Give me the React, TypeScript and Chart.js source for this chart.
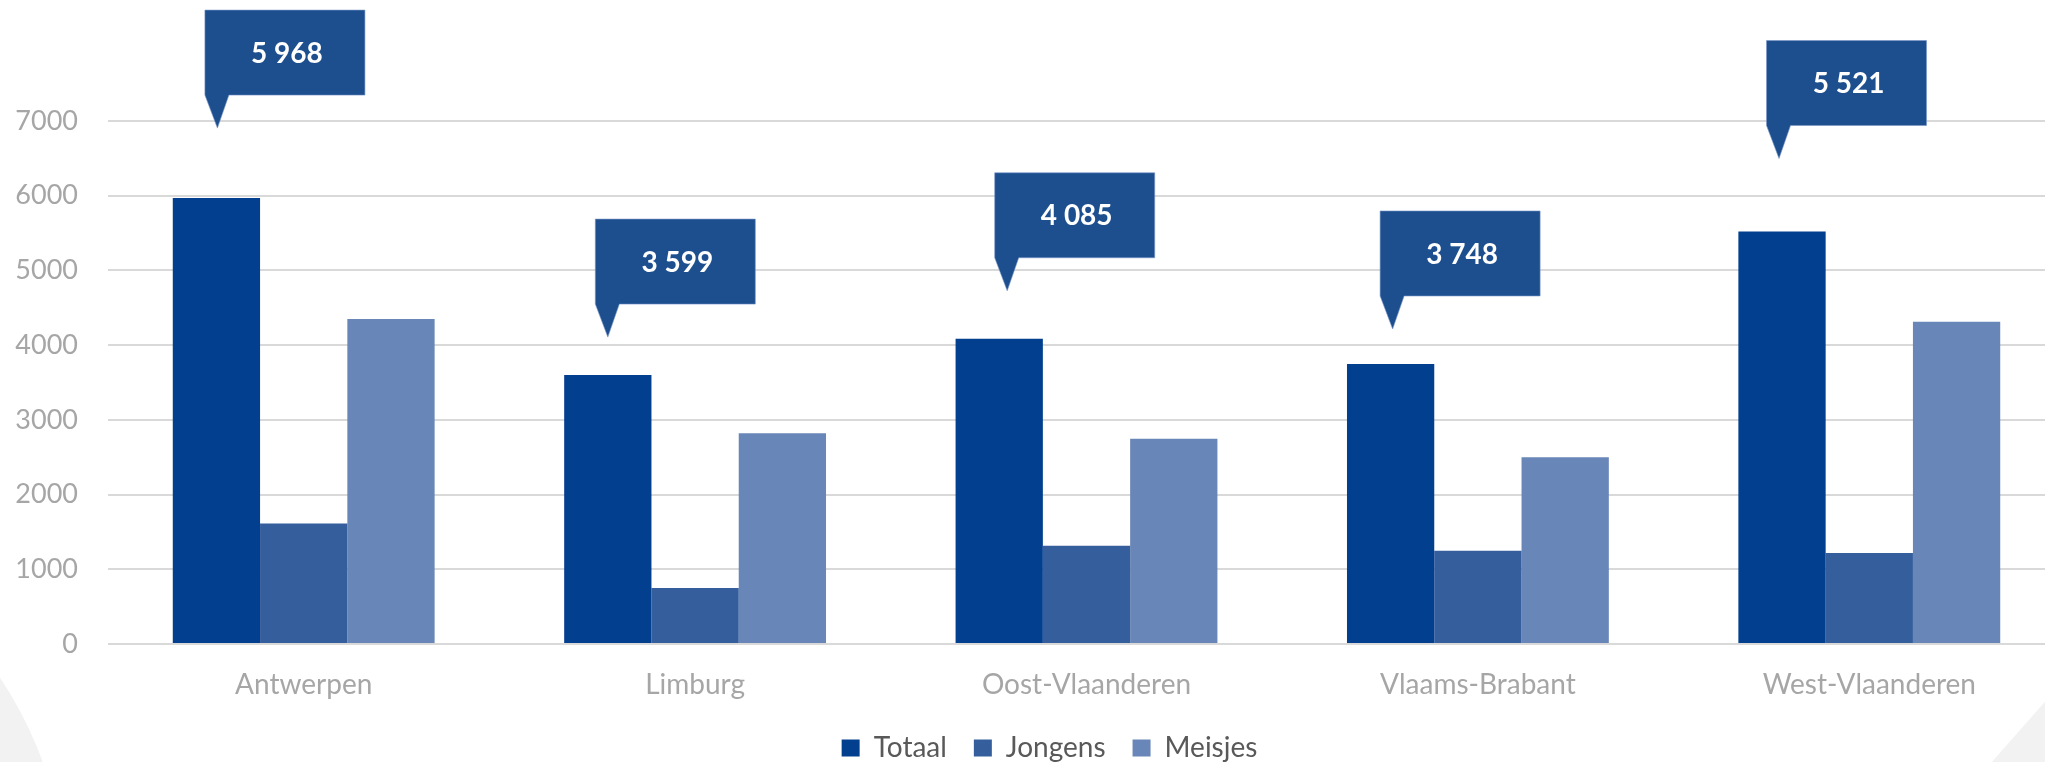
import { useEffect, useRef } from 'react';
import { Chart, registerables } from 'chart.js';

Chart.register(...registerables);

// ---- data ----
const categories = ['Antwerpen', 'Limburg', 'Oost-Vlaanderen', 'Vlaams-Brabant', 'West-Vlaanderen'];
const seriesLabels = ['Totaal', 'Jongens', 'Meisjes'];
const totaal = [5968, 3599, 4085, 3748, 5521];
const jongens = [1613, 750, 1316, 1249, 1218];
const meisjes = [4351, 2821, 2748, 2499, 4314];
const yMin = 0;
const yMax = 7000;
const yStep = 1000;

// ---- layout / style constants (not data) ----
const seriesColors = ['#023f8f', '#355e9d', '#6886b7'];
const calloutColor = '#1d4f8e';
const calloutLift = [70, 38, 48, 35, 73]; // px above bar top where the pointer tip sits
const calloutShift = [1, 0, 8, 2, -3]; // px horizontal nudge of the pointer tip
const legendNudge = 17; // px horizontal shift of the legend row
const FONT = 'Lato, "Open Sans", sans-serif';

const fmt = (v: number) => String(v).replace(/\B(?=(\d{3})+(?!\d))/g, ' ');

const bgShapes = {
  id: 'bgShapes',
  beforeDraw(chart: any) {
    const ctx = chart.ctx;
    ctx.save();
    ctx.fillStyle = '#f2f2f2';
    ctx.beginPath();
    ctx.arc(-325, 895, 391, 0, Math.PI * 2);
    ctx.fill();
    ctx.beginPath();
    ctx.moveTo(1983, 772);
    ctx.lineTo(2080, 662);
    ctx.lineTo(2080, 772);
    ctx.closePath();
    ctx.fill();
    ctx.restore();
  },
};

const legendShift = {
  id: 'legendShift',
  afterLayout(chart: any) {
    if (chart.legend) {
      chart.legend.left += legendNudge;
      chart.legend.right += legendNudge;
    }
  },
};

const callouts = {
  id: 'callouts',
  afterDatasetsDraw(chart: any) {
    const ctx = chart.ctx;
    const meta = chart.getDatasetMeta(0);
    const values = chart.data.datasets[0].data as number[];
    ctx.save();
    meta.data.forEach((bar: any, i: number) => {
      const tipX = bar.x + calloutShift[i];
      const tipY = bar.y - calloutLift[i];
      const left = tipX - 12.5;
      const right = left + 160;
      const bottom = tipY - 33;
      const top = bottom - 85;
      ctx.fillStyle = calloutColor;
      ctx.beginPath();
      ctx.moveTo(left, top);
      ctx.lineTo(right, top);
      ctx.lineTo(right, bottom);
      ctx.lineTo(left + 24, bottom);
      ctx.lineTo(tipX, tipY);
      ctx.lineTo(left, bottom);
      ctx.closePath();
      ctx.fill();
      ctx.strokeStyle = 'rgba(120,150,200,0.6)';
      ctx.lineWidth = 1;
      ctx.stroke();
      ctx.fillStyle = '#ffffff';
      ctx.font = `bold 28px ${FONT}`;
      ctx.textAlign = 'center';
      ctx.textBaseline = 'middle';
      ctx.fillText(fmt(values[i]), (left + right) / 2 + 2, (top + bottom) / 2 + 1);
    });
    ctx.restore();
  },
};

export default function App() {
  const ref = useRef<HTMLCanvasElement>(null);

  useEffect(() => {
    if (!ref.current) return;
    const series = [totaal, jongens, meisjes];
    const chart = new Chart(ref.current, {
      type: 'bar',
      data: {
        labels: categories,
        datasets: seriesLabels.map((label, k) => ({
          label,
          data: series[k],
          backgroundColor: seriesColors[k],
          borderWidth: 0,
          categoryPercentage: 0.669,
          barPercentage: 1,
        })),
      },
      options: {
        animation: false,
        responsive: false,
        devicePixelRatio: 1,
        layout: { padding: { left: 0, right: 15, top: 121, bottom: 0 } },
        plugins: {
          tooltip: { enabled: false },
          legend: {
            position: 'bottom',
            labels: {
              boxWidth: 18,
              boxHeight: 17,
              padding: 27,
              color: '#595959',
              font: { family: FONT, size: 28 },
            },
          },
        },
        scales: {
          x: {
            grid: { display: false, drawTicks: false },
            border: { display: false },
            ticks: {
              color: '#a6a6a6',
              padding: 24,
              font: { family: FONT, size: 28 },
              maxRotation: 0,
            },
            afterFit: (s: any) => {
              s.height = 63;
            },
          },
          y: {
            min: yMin,
            max: yMax,
            border: { display: false },
            grid: { color: '#d9d9d9', lineWidth: 2, drawTicks: false },
            ticks: {
              stepSize: yStep,
              color: '#a6a6a6',
              padding: 30,
              font: { family: FONT, size: 27 },
              callback: (v: any) => String(v),
            },
            afterFit: (s: any) => {
              s.width = 108;
            },
          },
        },
      },
      plugins: [bgShapes, legendShift, callouts],
    });
    return () => chart.destroy();
  }, []);

  return (
    <div
      style={{
        position: 'fixed',
        left: 0,
        top: 0,
        width: 2045,
        height: 762,
        overflow: 'hidden',
        background: '#ffffff',
      }}
    >
      <canvas ref={ref} width={2080} height={772} style={{ display: 'block' }} />
    </div>
  );
}
